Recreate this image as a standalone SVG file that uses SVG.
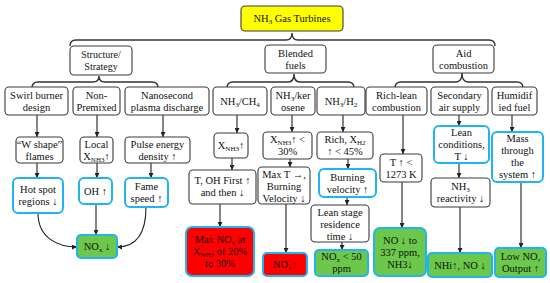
<svg xmlns="http://www.w3.org/2000/svg" width="550" height="283" viewBox="0 0 550 283">
<defs>
<style>
text{font-family:"Liberation Serif","Times New Roman",serif;font-size:10.5px;fill:#111;text-anchor:middle}
.b{fill:#fff;stroke:#3a3a3a;stroke-width:1.1}
.bl{fill:#fff;stroke:#22b4ee;stroke-width:2}
.g{fill:#6cc84a;stroke:#22b4ee;stroke-width:2}
.r{fill:#ff0000;stroke:#22b4ee;stroke-width:2}
.y{fill:#ffff00;stroke:#3a3a3a;stroke-width:1.1}
.br{fill:none;stroke:#333;stroke-width:1.4}
.c{fill:none;stroke:#222;stroke-width:1.1;marker-end:url(#ah)}
.s{font-size:7px}
</style>
<marker id="ah" viewBox="0 0 10 10" refX="10" refY="5" markerWidth="5" markerHeight="5" markerUnits="userSpaceOnUse" orient="auto">
<path d="M0,0 L10,5 L0,10 Z" fill="#222"/>
</marker>
</defs>
<rect width="550" height="283" fill="#fff"/>

<g id="connectors">
<path class="br" d="M70,46 Q70,40 76,40 L286,40 Q292,40 292,33 Q292,40 298,40 L489,40 Q495,40 495,46"/>
<path class="br" d="M32,88 Q32,82 38,82 L93,82 Q99,82 99,76 Q99,82 105,82 L152,82 Q158,82 158,88"/>
<path class="br" d="M227,88 Q227,82 233,82 L288,82 Q294,82 294,74 Q294,82 300,82 L348,82 Q354,82 354,88"/>
<path class="br" d="M395,88 Q395,82 401,82 L456,82 Q462,82 462,73 Q462,82 468,82 L517,82 Q523,82 523,88"/>
<path class="c" d="M37,115 L37,137"/>
<path class="c" d="M37,163 L37,178"/>
<path class="c" d="M97,115 L97,137"/>
<path class="c" d="M97,163 L97,178"/>
<path class="c" d="M163,115 L163,137"/>
<path class="c" d="M151,163 L151,178"/>
<path class="c" d="M38,213 C38,238 58,247 77,247"/>
<path class="c" d="M96,204 L96,235"/>
<path class="c" d="M146,207 C146,237 134,247 117,247"/>
<path class="c" d="M237,115 L237,133"/>
<path class="c" d="M232,158 L232,170"/>
<path class="c" d="M220,204 L220,227"/>
<path class="c" d="M292,115 L292,132"/>
<path class="c" d="M290,159 L290,167"/>
<path class="c" d="M286,204 L286,253"/>
<path class="c" d="M343,115 L343,132"/>
<path class="c" d="M348,159 L348,169"/>
<path class="c" d="M347,197 L347,205"/>
<path class="c" d="M342,242 L342,250"/>
<path class="c" d="M403,115 L403,154"/>
<path class="c" d="M402,182 L402,228"/>
<path class="c" d="M459,115 L459,126"/>
<path class="c" d="M459,163 L459,178"/>
<path class="c" d="M460,207 L460,253"/>
<path class="c" d="M512,115 L512,132"/>
<path class="c" d="M521,182 L521,248"/>
</g>

<g id="n-top"><rect class="y" x="241" y="6" width="102" height="25" rx="4"/><text x="292" y="22">NH<tspan class="s" dy="2">3</tspan><tspan dy="-2"> Gas Turbines</tspan></text></g>

<g id="n-structure"><rect class="b" x="70" y="46" width="62" height="29" rx="4"/><text x="101" y="58" style="font-size:10px">Structure/</text><text x="101" y="70" style="font-size:10px">Strategy</text></g>
<g id="n-blended"><rect class="b" x="265" y="45" width="61" height="28" rx="4"/><text x="295.5" y="56.5">Blended</text><text x="295.5" y="68.5">fuels</text></g>
<g id="n-aid"><rect class="b" x="433" y="45" width="61" height="28" rx="4"/><text x="463.5" y="56.5">Aid</text><text x="463.5" y="68.5">combustion</text></g>

<g id="n-swirl"><rect class="b" x="5" y="87" width="63" height="28" rx="4"/><text x="36.5" y="98.5">Swirl burner</text><text x="36.5" y="110.5">design</text></g>
<g id="n-nonpremixed"><rect class="b" x="73" y="87" width="47" height="28" rx="4"/><text x="96.5" y="98.5">Non-</text><text x="96.5" y="110.5">Premixed</text></g>
<g id="n-nanosecond"><rect class="b" x="125" y="87" width="84" height="28" rx="4"/><text x="167" y="98.5">Nanosecond</text><text x="167" y="110.5">plasma discharge</text></g>
<g id="n-ch4"><rect class="b" x="213" y="87" width="54" height="28" rx="4"/><text x="240" y="104.5">NH<tspan class="s" dy="2">3</tspan><tspan dy="-2">/CH</tspan><tspan class="s" dy="2">4</tspan></text></g>
<g id="n-kerosene"><rect class="b" x="271" y="87" width="44" height="28" rx="4"/><text x="293" y="98.5">NH<tspan class="s" dy="2">3</tspan><tspan dy="-2">/ker</tspan></text><text x="293" y="110.5">osene</text></g>
<g id="n-h2"><rect class="b" x="317" y="87" width="48" height="28" rx="4"/><text x="341" y="104.5">NH<tspan class="s" dy="2">3</tspan><tspan dy="-2">/H</tspan><tspan class="s" dy="2">2</tspan></text></g>
<g id="n-richlean"><rect class="b" x="366" y="87" width="61" height="28" rx="4"/><text x="396.5" y="98.5">Rich-lean</text><text x="396.5" y="110.5">combustion</text></g>
<g id="n-secondary"><rect class="b" x="431" y="87" width="57" height="28" rx="4"/><text x="459.5" y="98.5">Secondary</text><text x="459.5" y="110.5">air supply</text></g>
<g id="n-humidified"><rect class="b" x="492" y="87" width="45" height="28" rx="4"/><text x="514.5" y="98.5">Humidif</text><text x="514.5" y="110.5">ied fuel</text></g>

<g id="n-wshape"><rect class="b" x="16" y="137" width="47" height="26" rx="4"/><text x="39.5" y="147.5">“W shape”</text><text x="39.5" y="160">flames</text></g>
<g id="n-local"><rect class="b" x="80" y="137" width="33" height="26" rx="4"/><text x="96.5" y="147.5">Local</text><text x="96.5" y="160">X<tspan class="s" dy="2">NH3</tspan><tspan dy="-2">↑</tspan></text></g>
<g id="n-pulse"><rect class="b" x="125" y="137" width="65" height="26" rx="4"/><text x="157.5" y="147.5">Pulse energy</text><text x="157.5" y="160">density ↑</text></g>
<g id="n-xnh3"><rect class="b" x="214" y="133" width="34" height="25" rx="4"/><text x="231" y="149">X<tspan class="s" dy="2">NH3</tspan><tspan dy="-2">↑</tspan></text></g>
<g id="n-x30"><rect class="b" x="263" y="132" width="49" height="27" rx="4"/><text x="287.5" y="143">X<tspan class="s" dy="2">NH3</tspan><tspan dy="-2">↑ &lt;</tspan></text><text x="287.5" y="155">30%</text></g>
<g id="n-rich"><rect class="b" x="317" y="132" width="56" height="27" rx="4"/><text x="345" y="143">Rich, X<tspan class="s" dy="2">H2</tspan></text><text x="345" y="155">↑ &lt; 45%</text></g>
<g id="n-t1273"><rect class="b" x="380" y="154" width="42" height="28" rx="4"/><text x="401" y="165.5">T ↑ &lt;</text><text x="401" y="177.5">1273 K</text></g>
<g id="n-leancond"><rect class="bl" x="434" y="126" width="55" height="37" rx="5"/><text x="461.5" y="136">Lean</text><text x="461.5" y="148">conditions,</text><text x="461.5" y="160">T ↓</text></g>
<g id="n-mass"><rect class="bl" x="492" y="132" width="51" height="50" rx="5"/><text x="517.5" y="142">Mass</text><text x="517.5" y="154">through</text><text x="517.5" y="166">the</text><text x="517.5" y="178">system ↑</text></g>

<g id="n-hotspot"><rect class="bl" x="13" y="178" width="50" height="35" rx="5"/><text x="38" y="193">Hot spot</text><text x="38" y="205">regions ↓</text></g>
<g id="n-oh"><rect class="bl" x="79" y="178" width="33" height="26" rx="5"/><text x="95.5" y="194.5">OH ↑</text></g>
<g id="n-fame"><rect class="bl" x="125" y="178" width="43" height="29" rx="5"/><text x="146.5" y="190">Fame</text><text x="146.5" y="202">speed ↑</text></g>
<g id="n-nox1"><rect class="g" x="77" y="235" width="40" height="23" rx="4"/><text x="97" y="250">NO<tspan class="s" dy="2">x</tspan><tspan dy="-2"> ↓</tspan></text></g>
<g id="n-toh"><rect class="b" x="189" y="170" width="67" height="34" rx="4"/><text x="222.5" y="184">T, OH First ↑</text><text x="222.5" y="196">and then ↓</text></g>
<g id="n-maxt"><rect class="b" x="258" y="167" width="52" height="37" rx="4"/><text x="284" y="177.5">Max T →,</text><text x="284" y="189.5">Burning</text><text x="284" y="201.5">Velocity ↓</text></g>
<g id="n-burning"><rect class="bl" x="319" y="169" width="57" height="28" rx="5"/><text x="347.5" y="180.5">Burning</text><text x="347.5" y="192.5">velocity ↑</text></g>
<g id="n-leanstage"><rect class="b" x="311" y="205" width="58" height="37" rx="4"/><text x="340" y="215.5">Lean stage</text><text x="340" y="227.5">residence</text><text x="340" y="239.5">time ↓</text></g>
<g id="n-maxnox"><rect class="r" x="186" y="227" width="68" height="49" rx="6"/><text x="220" y="243">Max NO<tspan class="s" dy="2">x</tspan><tspan dy="-2"> at</tspan></text><text x="220" y="255">X<tspan class="s" dy="2">NH3</tspan><tspan dy="-2"> of 20%</tspan></text><text x="220" y="267">to 30%</text></g>
<g id="n-noxup"><rect class="r" x="263" y="253" width="44" height="23" rx="4"/><text x="285" y="268">NO<tspan class="s" dy="2">x</tspan><tspan dy="-2">↑</tspan></text></g>
<g id="n-nox50"><rect class="g" x="315" y="250" width="53" height="26" rx="4"/><text x="341.5" y="260">NO<tspan class="s" dy="2">x</tspan><tspan dy="-2"> &lt; 50</tspan></text><text x="341.5" y="272">ppm</text></g>
<g id="n-no337"><rect class="g" x="374" y="228" width="52" height="48" rx="6"/><text x="400" y="243.5">NO ↓ to</text><text x="400" y="255.5">337 ppm,</text><text x="400" y="267.5">NH3↓</text></g>
<g id="n-nh3react"><rect class="b" x="431" y="178" width="59" height="29" rx="4"/><text x="460.5" y="189.5">NH<tspan class="s" dy="2">3</tspan></text><text x="460.5" y="201.5">reactivity ↓</text></g>
<g id="n-nhi"><rect class="g" x="428" y="253" width="64" height="24" rx="4"/><text x="460" y="268.5">NHi↑, NO ↓</text></g>
<g id="n-lowno"><rect class="g" x="495" y="248" width="51" height="29" rx="4"/><text x="520.5" y="260">Low NO,</text><text x="520.5" y="272">Output ↑</text></g>
</svg>
